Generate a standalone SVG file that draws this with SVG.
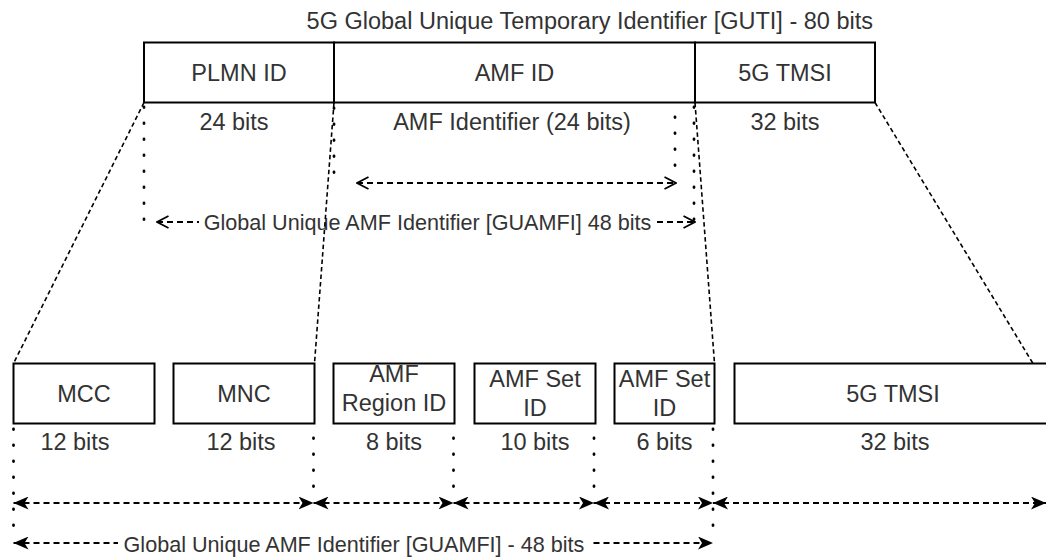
<svg xmlns="http://www.w3.org/2000/svg" width="1046" height="560" viewBox="0 0 1046 560">
  <style>
    .box { fill: #ffffff; stroke: #000000; stroke-width: 2; }
    .lbl { font-family: "Liberation Sans", Arial, Helvetica, sans-serif; font-size: 23.5px; fill: #333333; text-anchor: middle; }
    .elbl { font-family: "Liberation Sans", Arial, Helvetica, sans-serif; font-size: 21.6px; fill: #333333; text-anchor: middle; }
    .dashed { fill: none; stroke: #000000; stroke-width: 1.6; stroke-dasharray: 4.5 3; }
    .dotted { fill: none; stroke: #000000; stroke-width: 2.8; stroke-linecap: round; stroke-dasharray: 0.5 15.5; }
    .arrow { fill: none; stroke: #000000; stroke-width: 1.8; stroke-dasharray: 6 4; }
    .open { marker-start: url(#head-open); marker-end: url(#head-open); }
    .filled { marker-start: url(#head-fill); marker-end: url(#head-fill); }
    .bg { fill: #ffffff; stroke: none; }
  </style>
  <defs>
    <marker id="head-open" viewBox="0 0 14 14" refX="13" refY="7" markerWidth="14" markerHeight="14" markerUnits="userSpaceOnUse" orient="auto-start-reverse">
      <path d="M1.5,1 L13,7 L1.5,13" fill="none" stroke="#000000" stroke-width="1.8" stroke-dasharray="none"/>
    </marker>
    <marker id="head-fill" viewBox="0 0 15 13" refX="15" refY="6.5" markerWidth="15" markerHeight="13" markerUnits="userSpaceOnUse" orient="auto-start-reverse">
      <path d="M0,0 L15,6.5 L0,13 L4,6.5 Z" fill="#000000" stroke="none"/>
    </marker>
  </defs>

  <rect width="1046" height="560" fill="#ffffff"/>

  <!-- GUTI header -->
  <g id="guti-title">
    <text class="lbl" x="873" y="29" style="text-anchor: end">5G Global Unique Temporary Identifier [GUTI] - 80 bits</text>
  </g>

  <g id="guti-plmn">
    <rect class="box" x="144" y="42.5" width="190" height="60"/>
    <text class="lbl" x="239" y="80.7">PLMN ID</text>
    <text class="lbl" x="234" y="130">24 bits</text>
  </g>
  <g id="guti-amf">
    <rect class="box" x="334" y="42.5" width="361" height="60"/>
    <text class="lbl" x="514.5" y="80.7">AMF ID</text>
    <text class="lbl" x="512" y="130">AMF Identifier (24 bits)</text>
  </g>
  <g id="guti-tmsi">
    <rect class="box" x="695" y="42.5" width="180" height="60"/>
    <text class="lbl" x="785" y="80.7">5G TMSI</text>
    <text class="lbl" x="785" y="130">32 bits</text>
  </g>

  <!-- Expanded fields -->
  <g id="mcc">
    <rect class="box" x="13.5" y="363.5" width="141" height="60"/>
    <text class="lbl" x="84" y="401.5">MCC</text>
    <text class="lbl" x="75" y="450">12 bits</text>
  </g>
  <g id="mnc">
    <rect class="box" x="173.5" y="363.5" width="141" height="60"/>
    <text class="lbl" x="244" y="401.5">MNC</text>
    <text class="lbl" x="241" y="450">12 bits</text>
  </g>
  <g id="amf-region-id">
    <rect class="box" x="333.5" y="363.5" width="121" height="60"/>
    <text class="lbl" x="394" y="382">AMF</text>
    <text class="lbl" x="394" y="411">Region ID</text>
    <text class="lbl" x="394" y="450">8 bits</text>
  </g>
  <g id="amf-set-id">
    <rect class="box" x="474.5" y="363.5" width="121" height="60"/>
    <text class="lbl" x="535" y="386.5">AMF Set</text>
    <text class="lbl" x="535" y="415.5">ID</text>
    <text class="lbl" x="535" y="450">10 bits</text>
  </g>
  <g id="amf-set-id-2">
    <rect class="box" x="614.5" y="363.5" width="100" height="60"/>
    <text class="lbl" x="664.5" y="386.5">AMF Set</text>
    <text class="lbl" x="664.5" y="415.5">ID</text>
    <text class="lbl" x="664.5" y="450">6 bits</text>
  </g>
  <g id="tmsi">
    <rect class="box" x="734.5" y="363.5" width="320" height="60"/>
    <text class="lbl" x="893" y="401.5">5G TMSI</text>
    <text class="lbl" x="895" y="450">32 bits</text>
  </g>

  <g id="connectors">
    <!-- extent markers, upper row -->
    <path class="dotted" d="M144,107 V222"/>
    <path class="dotted" d="M694,107 V222"/>
    <path class="dotted" d="M334,108 V183"/>
    <path class="dotted" d="M675,117 V181"/>

    <!-- AMF identifier span -->
    <path class="arrow open" d="M357,183 H676"/>

    <!-- GUAMFI span, upper row -->
    <path class="arrow open" d="M157,222 H695"/>
    <rect class="bg" x="199" y="211" width="458" height="23"/>
    <text class="elbl" x="427.5" y="229.5">Global Unique AMF Identifier [GUAMFI] 48 bits</text>

    <!-- expansion guides -->
    <path class="dashed" d="M144,102.5 L13.5,363.5"/>
    <path class="dashed" d="M334,102.5 L314.5,363.5"/>
    <path class="dashed" d="M695,102.5 L714.5,363.5"/>
    <path class="dashed" d="M875,102.5 L1033,363.5"/>

    <!-- extent markers, lower row -->
    <path class="dotted" d="M13.5,429 V541"/>
    <path class="dotted" d="M313.5,438 V500"/>
    <path class="dotted" d="M453.5,438 V500"/>
    <path class="dotted" d="M594,438 V500"/>
    <path class="dotted" d="M713,429 V541"/>

    <!-- field spans -->
    <path class="arrow filled" d="M13.5,503 H313.5"/>
    <path class="arrow filled" d="M313.5,503 H453.5"/>
    <path class="arrow filled" d="M453.5,503 H594"/>
    <path class="arrow filled" d="M594,503 H713"/>
    <path class="arrow filled" d="M713,503 H1046"/>

    <!-- GUAMFI span, lower row -->
    <path class="arrow filled" d="M13.5,543 H713"/>
    <rect class="bg" x="118" y="532" width="472" height="23"/>
    <text class="elbl" x="354" y="551.5">Global Unique AMF Identifier [GUAMFI] - 48 bits</text>
  </g>
</svg>
